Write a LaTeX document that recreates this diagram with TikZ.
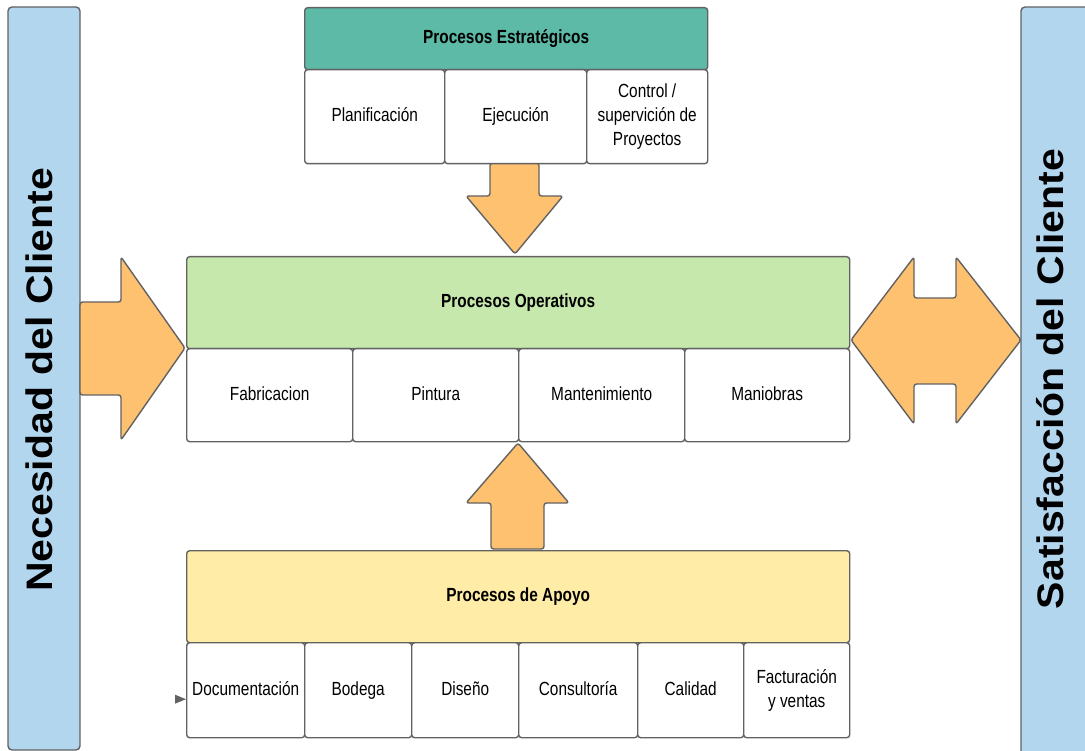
\documentclass[tikz,border=0pt]{standalone}
\usepackage{graphicx}
\usepackage{fontspec}
\setmainfont[FakeStretch=0.81]{Liberation Sans}
\newfontfamily\barfont{Liberation Sans}
\usetikzlibrary{calc}

\definecolor{edge}{RGB}{98,98,98}
\definecolor{barblue}{RGB}{179,214,239}
\definecolor{teal}{RGB}{92,186,167}
\definecolor{opgreen}{RGB}{199,232,172}
\definecolor{supyellow}{RGB}{255,236,166}
\definecolor{arroworange}{RGB}{253,193,111}

\begin{document}
\begin{tikzpicture}[x=1pt,y=-1pt,
  box/.style={draw=edge, line width=1.4pt, rounded corners=3pt, anchor=north west,
    inner sep=0pt, align=center, font=\fontsize{19}{24}\selectfont},
  cell/.style={box, fill=white},
  oneline/.style={text height=9.6pt, text depth=0pt},
  midline/.style={text height=11.6pt, text depth=0pt},
  head/.style={box, oneline, font=\fontsize{19}{24}\selectfont\bfseries},
  bar/.style={draw=edge, line width=1.4pt, rounded corners=4pt, fill=barblue},
  bartext/.style={rotate=90, anchor=base, inner sep=0pt,
    font=\barfont\bfseries\fontsize{41}{41}\selectfont},
  blockarrow/.style={draw=edge, line width=1.4pt, fill=arroworange, rounded corners=2.5pt, line join=round}
]
\useasboundingbox (0,0) rectangle (1085,751);
\clip (0,0) rectangle (1085,751);

% side bars
\draw[bar] (8,7) rectangle (80,750);
\draw[bar] (1021,7) rectangle (1100,770);
\node[bartext] (need) at (52,380) {\scalebox{1}[0.9]{Necesidad del Cliente}};
\node[bartext] (satisf) at (1063,379) {\scalebox{1}[0.9]{Satisfacción del Cliente}};

% block arrows
\draw[blockarrow] (80,302) -- (121,302) -- (121,257) -- (185,348) -- (121,440) -- (121,395) -- (80,395) -- cycle;
\draw[blockarrow] (490,163) -- (490,196) -- (466,196) -- (515,254) -- (563,196) -- (539,196) -- (539,163) -- cycle;
\draw[blockarrow] (491,549) -- (491,503) -- (466,503) -- (518,443) -- (569,503) -- (544,503) -- (544,549) -- cycle;
\draw[blockarrow] (851,340) -- (914,257) -- (914,298) -- (956,298) -- (956,257) -- (1021,340)
  -- (956,424) -- (956,384) -- (914,384) -- (914,424) -- cycle;

% strategic processes
\node[head, fill=teal, minimum width=403pt, minimum height=62pt] (estr) at (304,7) {Procesos Estratégicos};
\node[cell, oneline, minimum width=140pt, minimum height=94pt] (plan) at (304,69) {Planificación};
\node[cell, oneline, minimum width=142pt, minimum height=94pt] (ejec) at (444,69) {Ejecución};
\node[cell, minimum width=121pt, minimum height=94pt] (ctrl) at (586,69) {Control /\\supervición de\\Proyectos};

% operational processes
\node[head, fill=opgreen, minimum width=663pt, minimum height=92pt] (oper) at (186,256) {Procesos Operativos};
\node[cell, midline, minimum width=166pt, minimum height=93pt] (fabr) at (186,348) {Fabricacion};
\node[cell, midline, minimum width=166pt, minimum height=93pt] (pint) at (352,348) {Pintura};
\node[cell, midline, minimum width=166pt, minimum height=93pt] (mant) at (518,348) {Mantenimiento};
\node[cell, midline, minimum width=165pt, minimum height=93pt] (mani) at (684,348) {Maniobras};

% support processes
\node[head, fill=supyellow, minimum width=663pt, minimum height=92pt] (apoyo) at (186,550) {Procesos de Apoyo};
\node[cell, oneline, minimum width=118pt, minimum height=95pt] (docu) at (186,642) {Documentación};
\node[cell, oneline, minimum width=107pt, minimum height=95pt] (bode) at (304,642) {Bodega};
\node[cell, oneline, minimum width=107pt, minimum height=95pt] (dise) at (411,642) {Diseño};
\node[cell, oneline, minimum width=119pt, minimum height=95pt] (cons) at (518,642) {Consultoría};
\node[cell, oneline, minimum width=106pt, minimum height=95pt] (cali) at (637,642) {Calidad};
\node[cell, minimum width=106pt, minimum height=95pt] (fact) at (743,642) {Facturación\\y ventas};

% small pointer at the documentation box
\fill[edge] ($(docu.west)+(-11,4.5)$) -- ($(docu.west)+(0,9)$) -- ($(docu.west)+(-11,13.5)$) -- cycle;
\end{tikzpicture}
\end{document}
